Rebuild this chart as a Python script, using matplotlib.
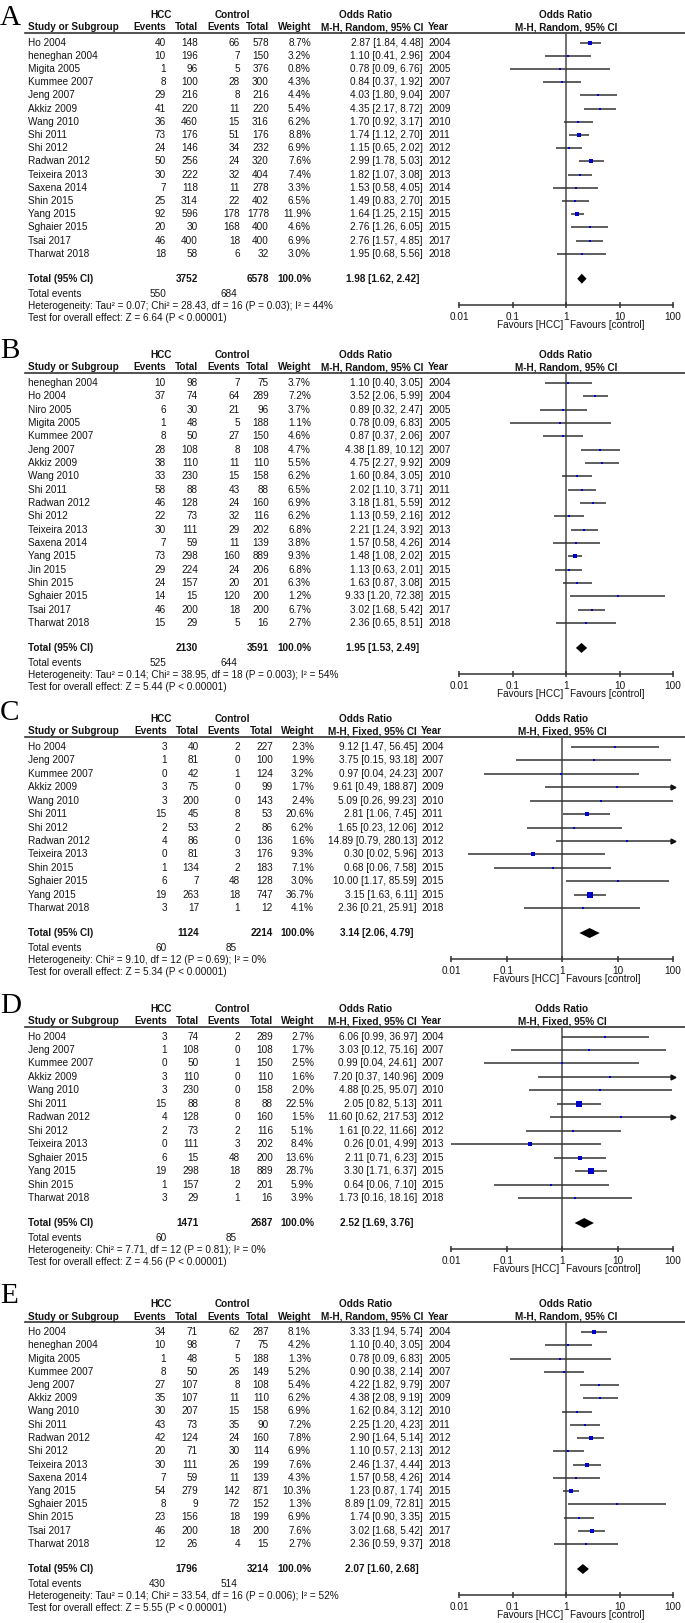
import matplotlib
matplotlib.use("Agg")
import matplotlib.pyplot as plt

plt.rcParams['font.family'] = ['Liberation Sans', 'DejaVu Sans']

# ---- panel A (M-H, Random) ----
a_study = ["Ho 2004", "heneghan 2004", "Migita 2005", "Kummee 2007", "Jeng 2007", "Akkiz 2009",
           "Wang 2010", "Shi 2011", "Shi 2012", "Radwan 2012", "Teixeira 2013", "Saxena 2014",
           "Shin 2015", "Yang 2015", "Sghaier 2015", "Tsai 2017", "Tharwat 2018"]
a_hcc_ev = [40, 10, 1, 8, 29, 41, 36, 73, 24, 50, 30, 7, 25, 92, 20, 46, 18]
a_hcc_tot = [148, 196, 96, 100, 216, 220, 460, 176, 146, 256, 222, 118, 314, 596, 30, 400, 58]
a_ctl_ev = [66, 7, 5, 28, 8, 11, 15, 51, 34, 24, 32, 11, 22, 178, 168, 18, 6]
a_ctl_tot = [578, 150, 376, 300, 216, 220, 316, 176, 232, 320, 404, 278, 402, 1778, 400, 400, 32]
a_weight = [8.7, 3.2, 0.8, 4.3, 4.4, 5.4, 6.2, 8.8, 6.9, 7.6, 7.4, 3.3, 6.5, 11.9, 4.6, 6.9, 3.0]
a_or = [2.87, 1.10, 0.78, 0.84, 4.03, 4.35, 1.70, 1.74, 1.15, 2.99, 1.82, 1.53, 1.49, 1.64, 2.76, 2.76, 1.95]
a_lo = [1.84, 0.41, 0.09, 0.37, 1.80, 2.17, 0.92, 1.12, 0.65, 1.78, 1.07, 0.58, 0.83, 1.25, 1.26, 1.57, 0.68]
a_hi = [4.48, 2.96, 6.76, 1.92, 9.04, 8.72, 3.17, 2.70, 2.02, 5.03, 3.08, 4.05, 2.70, 2.15, 6.05, 4.85, 5.56]
a_year = [2004, 2004, 2005, 2007, 2007, 2009, 2010, 2011, 2012, 2012, 2013, 2014, 2015, 2015, 2015, 2017, 2018]
a_total = (3752, 6578, 1.98, 1.62, 2.42, 550, 684)
a_het = "Heterogeneity: Tau\u00b2 = 0.07; Chi\u00b2 = 28.43, df = 16 (P = 0.03); I\u00b2 = 44%"
a_test = "Test for overall effect: Z = 6.64 (P < 0.00001)"

# ---- panel B (M-H, Random) ----
b_study = ["heneghan 2004", "Ho 2004", "Niro 2005", "Migita 2005", "Kummee 2007", "Jeng 2007",
           "Akkiz 2009", "Wang 2010", "Shi 2011", "Radwan 2012", "Shi 2012", "Teixeira 2013",
           "Saxena 2014", "Yang 2015", "Jin 2015", "Shin 2015", "Sghaier 2015", "Tsai 2017", "Tharwat 2018"]
b_hcc_ev = [10, 37, 6, 1, 8, 28, 38, 33, 58, 46, 22, 30, 7, 73, 29, 24, 14, 46, 15]
b_hcc_tot = [98, 74, 30, 48, 50, 108, 110, 230, 88, 128, 73, 111, 59, 298, 224, 157, 15, 200, 29]
b_ctl_ev = [7, 64, 21, 5, 27, 8, 11, 15, 43, 24, 32, 29, 11, 160, 24, 20, 120, 18, 5]
b_ctl_tot = [75, 289, 96, 188, 150, 108, 110, 158, 88, 160, 116, 202, 139, 889, 206, 201, 200, 200, 16]
b_weight = [3.7, 7.2, 3.7, 1.1, 4.6, 4.7, 5.5, 6.2, 6.5, 6.9, 6.2, 6.8, 3.8, 9.3, 6.8, 6.3, 1.2, 6.7, 2.7]
b_or = [1.10, 3.52, 0.89, 0.78, 0.87, 4.38, 4.75, 1.60, 2.02, 3.18, 1.13, 2.21, 1.57, 1.48, 1.13, 1.63, 9.33, 3.02, 2.36]
b_lo = [0.40, 2.06, 0.32, 0.09, 0.37, 1.89, 2.27, 0.84, 1.10, 1.81, 0.59, 1.24, 0.58, 1.08, 0.63, 0.87, 1.20, 1.68, 0.65]
b_hi = [3.05, 5.99, 2.47, 6.83, 2.06, 10.12, 9.92, 3.05, 3.71, 5.59, 2.16, 3.92, 4.26, 2.02, 2.01, 3.08, 72.38, 5.42, 8.51]
b_year = [2004, 2004, 2005, 2005, 2007, 2007, 2009, 2010, 2011, 2012, 2012, 2013, 2014, 2015, 2015, 2015, 2015, 2017, 2018]
b_total = (2130, 3591, 1.95, 1.53, 2.49, 525, 644)
b_het = "Heterogeneity: Tau\u00b2 = 0.14; Chi\u00b2 = 38.95, df = 18 (P = 0.003); I\u00b2 = 54%"
b_test = "Test for overall effect: Z = 5.44 (P < 0.00001)"

# ---- panel C (M-H, Fixed) ----
c_study = ["Ho 2004", "Jeng 2007", "Kummee 2007", "Akkiz 2009", "Wang 2010", "Shi 2011", "Shi 2012",
           "Radwan 2012", "Teixeira 2013", "Shin 2015", "Sghaier 2015", "Yang 2015", "Tharwat 2018"]
c_hcc_ev = [3, 1, 0, 3, 3, 15, 2, 4, 0, 1, 6, 19, 3]
c_hcc_tot = [40, 81, 42, 75, 200, 45, 53, 86, 81, 134, 7, 263, 17]
c_ctl_ev = [2, 0, 1, 0, 0, 8, 2, 0, 3, 2, 48, 18, 1]
c_ctl_tot = [227, 100, 124, 99, 143, 53, 86, 136, 176, 183, 128, 747, 12]
c_weight = [2.3, 1.9, 3.2, 1.7, 2.4, 20.6, 6.2, 1.6, 9.3, 7.1, 3.0, 36.7, 4.1]
c_or = [9.12, 3.75, 0.97, 9.61, 5.09, 2.81, 1.65, 14.89, 0.30, 0.68, 10.00, 3.15, 2.36]
c_lo = [1.47, 0.15, 0.04, 0.49, 0.26, 1.06, 0.23, 0.79, 0.02, 0.06, 1.17, 1.63, 0.21]
c_hi = [56.45, 93.18, 24.23, 188.87, 99.23, 7.45, 12.06, 280.13, 5.96, 7.58, 85.59, 6.11, 25.91]
c_year = [2004, 2007, 2007, 2009, 2010, 2011, 2012, 2012, 2013, 2015, 2015, 2015, 2018]
c_total = (1124, 2214, 3.14, 2.06, 4.79, 60, 85)
c_het = "Heterogeneity: Chi\u00b2 = 9.10, df = 12 (P = 0.69); I\u00b2 = 0%"
c_test = "Test for overall effect: Z = 5.34 (P < 0.00001)"

# ---- panel D (M-H, Fixed) ----
d_study = ["Ho 2004", "Jeng 2007", "Kummee 2007", "Akkiz 2009", "Wang 2010", "Shi 2011", "Radwan 2012",
           "Shi 2012", "Teixeira 2013", "Sghaier 2015", "Yang 2015", "Shin 2015", "Tharwat 2018"]
d_hcc_ev = [3, 1, 0, 3, 3, 15, 4, 2, 0, 6, 19, 1, 3]
d_hcc_tot = [74, 108, 50, 110, 230, 88, 128, 73, 111, 15, 298, 157, 29]
d_ctl_ev = [2, 0, 1, 0, 0, 8, 0, 2, 3, 48, 18, 2, 1]
d_ctl_tot = [289, 108, 150, 110, 158, 88, 160, 116, 202, 200, 889, 201, 16]
d_weight = [2.7, 1.7, 2.5, 1.6, 2.0, 22.5, 1.5, 5.1, 8.4, 13.6, 28.7, 5.9, 3.9]
d_or = [6.06, 3.03, 0.99, 7.20, 4.88, 2.05, 11.60, 1.61, 0.26, 2.11, 3.30, 0.64, 1.73]
d_lo = [0.99, 0.12, 0.04, 0.37, 0.25, 0.82, 0.62, 0.22, 0.01, 0.71, 1.71, 0.06, 0.16]
d_hi = [36.97, 75.16, 24.61, 140.96, 95.07, 5.13, 217.53, 11.66, 4.99, 6.23, 6.37, 7.10, 18.16]
d_year = [2004, 2007, 2007, 2009, 2010, 2011, 2012, 2012, 2013, 2015, 2015, 2015, 2018]
d_total = (1471, 2687, 2.52, 1.69, 3.76, 60, 85)
d_het = "Heterogeneity: Chi\u00b2 = 7.71, df = 12 (P = 0.81); I\u00b2 = 0%"
d_test = "Test for overall effect: Z = 4.56 (P < 0.00001)"

# ---- panel E (M-H, Random) ----
e_study = ["Ho 2004", "heneghan 2004", "Migita 2005", "Kummee 2007", "Jeng 2007", "Akkiz 2009",
           "Wang 2010", "Shi 2011", "Radwan 2012", "Shi 2012", "Teixeira 2013", "Saxena 2014",
           "Yang 2015", "Sghaier 2015", "Shin 2015", "Tsai 2017", "Tharwat 2018"]
e_hcc_ev = [34, 10, 1, 8, 27, 35, 30, 43, 42, 20, 30, 7, 54, 8, 23, 46, 12]
e_hcc_tot = [71, 98, 48, 50, 107, 107, 207, 73, 124, 71, 111, 59, 279, 9, 156, 200, 26]
e_ctl_ev = [62, 7, 5, 26, 8, 11, 15, 35, 24, 30, 26, 11, 142, 72, 18, 18, 4]
e_ctl_tot = [287, 75, 188, 149, 108, 110, 158, 90, 160, 114, 199, 139, 871, 152, 199, 200, 15]
e_weight = [8.1, 4.2, 1.3, 5.2, 5.4, 6.2, 6.9, 7.2, 7.8, 6.9, 7.6, 4.3, 10.3, 1.3, 6.9, 7.6, 2.7]
e_or = [3.33, 1.10, 0.78, 0.90, 4.22, 4.38, 1.62, 2.25, 2.90, 1.10, 2.46, 1.57, 1.23, 8.89, 1.74, 3.02, 2.36]
e_lo = [1.94, 0.40, 0.09, 0.38, 1.82, 2.08, 0.84, 1.20, 1.64, 0.57, 1.37, 0.58, 0.87, 1.09, 0.90, 1.68, 0.59]
e_hi = [5.74, 3.05, 6.83, 2.14, 9.79, 9.19, 3.12, 4.23, 5.14, 2.13, 4.44, 4.26, 1.74, 72.81, 3.35, 5.42, 9.37]
e_year = [2004, 2004, 2005, 2007, 2007, 2009, 2010, 2011, 2012, 2012, 2013, 2014, 2015, 2015, 2015, 2017, 2018]
e_total = (1796, 3214, 2.07, 1.60, 2.68, 430, 514)
e_het = "Heterogeneity: Tau\u00b2 = 0.14; Chi\u00b2 = 33.54, df = 16 (P = 0.006); I\u00b2 = 52%"
e_test = "Test for overall effect: Z = 5.55 (P < 0.00001)"

W, H = 685, 1623
FS = 7.2
TXT = '#141414'
LINE = '#333333'

fig = plt.figure(figsize=(W / 100, H / 100), dpi=100)
bg = fig.add_axes([0, 0, 1, 1])
bg.set_xlim(0, W)
bg.set_ylim(H, 0)
bg.axis('off')


def txt(x, y, s, ha='left', bold=False, **kw):
    bg.text(x, y, s, ha=ha, va='center', fontsize=FS, color=TXT,
            fontweight='bold' if bold else 'normal', **kw)


def draw_panel(letter, letter_y, line_y, row0, step, method, data, total, het, test):
    study, hcc_ev, hcc_tot, ctl_ev, ctl_tot, weight, odds, lo, hi, year = data
    fixed = method == 'Fixed'
    if fixed:
        cols = dict(ev1=167, tot1=199, ev2=240, tot2=273, wt=314, ci=417, yr=421)
        ax_l, ax_r = 451, 673
    else:
        cols = dict(ev1=166, tot1=198, ev2=240, tot2=269, wt=311, ci=423, yr=428)
        ax_l, ax_r = 459, 673
    n = len(study)
    rows = [row0 + i * step for i in range(n)]
    tot_y = rows[-1] + 25
    ev_y = tot_y + 15
    het_y = ev_y + 12
    test_y = het_y + 12
    axis_y = tot_y + 26
    mid = (ax_l + ax_r) / 2

    # panel letter
    bg.text(0, letter_y, letter, fontsize=21, family='Liberation Serif', color='black', va='baseline')

    # headers
    h1, h2 = line_y - 18, line_y - 5.5
    txt(161, h1, "HCC", ha='center', bold=True)
    txt(232, h1, "Control", ha='center', bold=True)
    txt(366, h1, "Odds Ratio", ha='center', bold=True)
    txt(mid, h1, "Odds Ratio", ha='center', bold=True)
    txt(28, h2, "Study or Subgroup", bold=True)
    txt(cols['ev1'], h2, "Events", ha='right', bold=True)
    txt(cols['tot1'], h2, "Total", ha='right', bold=True)
    txt(cols['ev2'], h2, "Events", ha='right', bold=True)
    txt(cols['tot2'], h2, "Total", ha='right', bold=True)
    txt(cols['wt'], h2, "Weight", ha='right', bold=True)
    txt(cols['ci'], h2, "M-H, %s, 95%% CI" % method, ha='right', bold=True)
    txt(cols['yr'], h2, "Year", bold=True)
    txt(mid, h2, "M-H, %s, 95%% CI" % method, ha='center', bold=True)
    bg.plot([25, W], [line_y, line_y], color=LINE, lw=1.2)

    # study rows
    for i in range(n):
        y = rows[i]
        txt(28, y, study[i])
        txt(cols['ev1'], y, str(hcc_ev[i]), ha='right')
        txt(cols['tot1'], y, str(hcc_tot[i]), ha='right')
        txt(cols['ev2'], y, str(ctl_ev[i]), ha='right')
        txt(cols['tot2'], y, str(ctl_tot[i]), ha='right')
        txt(cols['wt'], y, "%.1f%%" % weight[i], ha='right')
        txt(cols['ci'], y, "%.2f [%.2f, %.2f]" % (odds[i], lo[i], hi[i]), ha='right')
        txt(cols['yr'], y, str(year[i]))

    n1, n2, t_or, t_lo, t_hi, e1, e2 = total
    txt(28, tot_y, "Total (95% CI)", bold=True)
    txt(cols['tot1'], tot_y, str(n1), ha='right', bold=True)
    txt(cols['tot2'], tot_y, str(n2), ha='right', bold=True)
    txt(cols['wt'], tot_y, "100.0%", ha='right', bold=True)
    txt(cols['ci'] - 4, tot_y, "%.2f [%.2f, %.2f]" % (t_or, t_lo, t_hi), ha='right', bold=True)
    txt(28, ev_y, "Total events")
    txt(cols['ev1'], ev_y, str(e1), ha='right')
    txt(cols['ev2'] - 3, ev_y, str(e2), ha='right')
    txt(28, het_y, het)
    txt(28, test_y, test)

    # forest plot axes, y data in figure pixels
    ax = fig.add_axes([ax_l / W, 1 - axis_y / H, (ax_r - ax_l) / W, (axis_y - line_y) / H])
    ax.set_xscale('log')
    ax.set_xlim(0.01, 100)
    ax.set_ylim(axis_y, line_y)
    ax.patch.set_alpha(0)
    for s in ['top', 'left', 'right']:
        ax.spines[s].set_visible(False)
    ax.spines['bottom'].set_color(LINE)
    ax.spines['bottom'].set_linewidth(1.1)
    ax.set_yticks([])
    ax.set_xticks([0.01, 0.1, 1, 10, 100])
    ax.set_xticklabels(["0.01", "0.1", "1", "10", "100"])
    ax.xaxis.set_minor_locator(matplotlib.ticker.NullLocator())
    ax.tick_params(axis='x', direction='inout', length=5, width=1.1, color=LINE,
                   labelsize=FS, labelcolor=TXT, pad=2.5)
    ax.axvline(1, color='#4a4a4a', lw=1.1, zorder=1)

    for i in range(n):
        y = rows[i]
        right = min(hi[i], 100)
        ax.plot([lo[i], right], [y, y], color=LINE, lw=1.1, solid_capstyle='butt', zorder=2)
        if hi[i] > 100:
            ax.plot([100], [y], marker='>', ms=3.5, color='#111111', clip_on=False, zorder=3)
        side = max(2.0, 1.1 * weight[i] ** 0.5)
        ax.plot([odds[i]], [y], marker='s', ms=side * 0.72, color='#0000cc', mew=0, zorder=4)

    ax.fill([t_lo, t_or, t_hi, t_or], [tot_y, tot_y - 5, tot_y, tot_y + 5], color='black', lw=0, zorder=4)

    fav_y = axis_y + 20
    txt(mid - 3, fav_y, "Favours [HCC]", ha='right')
    txt(mid + 4, fav_y, "Favours [control]")


draw_panel("A", 25, 33, 42.5, 13.2, 'Random',
           (a_study, a_hcc_ev, a_hcc_tot, a_ctl_ev, a_ctl_tot, a_weight, a_or, a_lo, a_hi, a_year),
           a_total, a_het, a_test)
draw_panel("B", 358, 373, 383, 13.33, 'Random',
           (b_study, b_hcc_ev, b_hcc_tot, b_ctl_ev, b_ctl_tot, b_weight, b_or, b_lo, b_hi, b_year),
           b_total, b_het, b_test)
draw_panel("C", 720, 737, 747, 13.42, 'Fixed',
           (c_study, c_hcc_ev, c_hcc_tot, c_ctl_ev, c_ctl_tot, c_weight, c_or, c_lo, c_hi, c_year),
           c_total, c_het, c_test)
draw_panel("D", 1013, 1027, 1036.5, 13.46, 'Fixed',
           (d_study, d_hcc_ev, d_hcc_tot, d_ctl_ev, d_ctl_tot, d_weight, d_or, d_lo, d_hi, d_year),
           d_total, d_het, d_test)
draw_panel("E", 1303, 1322, 1332, 13.25, 'Random',
           (e_study, e_hcc_ev, e_hcc_tot, e_ctl_ev, e_ctl_tot, e_weight, e_or, e_lo, e_hi, e_year),
           e_total, e_het, e_test)

fig.savefig("out.png", dpi=100, facecolor='white')
